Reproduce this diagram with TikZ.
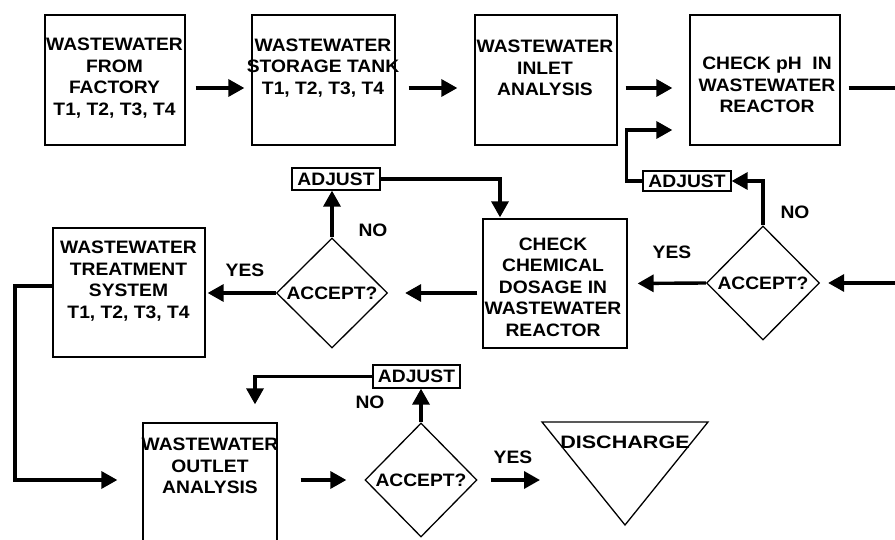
\documentclass[tikz,border=0pt]{standalone}
\usepackage{fontspec}
\setmainfont{Liberation Sans}[FakeStretch=1.07]
\usetikzlibrary{arrows.meta,shapes.geometric}
\begin{document}
\begin{tikzpicture}[x=1pt,y=-1pt,
  box/.style={draw,line width=1.3pt,inner sep=0pt},
  txt/.style={align=center,inner sep=0pt,font=\fontsize{18}{21.5}\selectfont\bfseries},
  lbl/.style={inner sep=0pt,font=\fontsize{18}{21.5}\selectfont\bfseries},
  dia/.style={draw,diamond,aspect=1,line width=1.3pt,inner sep=0pt,font=\fontsize{18}{21.5}\selectfont\bfseries},
  adj/.style={draw,line width=1.3pt,inner sep=0pt,font=\fontsize{18}{21.5}\selectfont\bfseries},
  conn/.style={line width=3.4pt,-{Triangle[length=16pt,width=17pt]}},
  plain/.style={line width=3.4pt},
  thinl/.style={line width=1.3pt,line join=miter},
]
\path[use as bounding box] (0,0) rectangle (895,540);
\clip (0,0) rectangle (895,540);

% top row
\node[box,minimum width=140pt,minimum height=130pt] (b1) at (115,80) {};
\node[txt] (t1) at (114.5,78) {WASTEWATER\\FROM\\FACTORY\\T1, T2, T3, T4};
\node[box,minimum width=143pt,minimum height=130pt] (b2) at (323.5,80) {};
\node[txt] (t2) at (323,68) {WASTEWATER\\STORAGE TANK\\T1, T2, T3, T4};
\node[box,minimum width=142pt,minimum height=130pt] (b3) at (546,80) {};
\node[txt] (t3) at (545,68) {WASTEWATER\\INLET\\ANALYSIS};
\node[box,minimum width=150pt,minimum height=130pt] (b4) at (765,80) {};
\node[txt] (t4) at (767,85) {CHECK pH\ \ IN\\WASTEWATER\\REACTOR};

\draw[conn,shorten <=10pt,shorten >=7pt] ([yshift=-8pt]b1.east) -- ([yshift=-8pt]b2.west);
\draw[conn,shorten <=13pt,shorten >=17pt] ([yshift=-8pt]b2.east) -- ([yshift=-8pt]b3.west);
\draw[conn,shorten <=8pt,shorten >=17pt] ([yshift=-8pt]b3.east) -- ([yshift=-8pt]b4.west);
\coordinate (outR) at (900,88);
\draw[plain,shorten <=8pt] ([yshift=-8pt]b4.east) -- (outR);

% middle row, right
\node[dia,minimum width=113pt,minimum height=114pt] (d1) at (763,283) {ACCEPT?};
\coordinate (inR) at (900,283);
\draw[conn,shorten >=8pt] (inR) -- (d1.east);
\node[adj,minimum width=88pt,minimum height=20pt] (adj1) at (687,181) {ADJUST};
\draw[conn] (d1.north) |- (adj1.east);
\draw[conn,shorten >=17pt] (adj1.west) -- ++(-16,0) |- ([yshift=-50pt]b4.west);
\node[lbl] (no1) at (795,212) {NO};

\node[box,minimum width=144pt,minimum height=129pt] (b6) at (555,283.5) {};
\node[txt] (t6) at (553,287) {CHECK\\CHEMICAL\\DOSAGE IN\\WASTEWATER\\REACTOR};
\draw[conn,shorten >=10pt] (d1.west) -- (b6.east);
\node[lbl] (yes1) at (672,252) {YES};

% middle row, left
\node[dia,minimum width=111pt,minimum height=110pt] (d2) at (332,293) {ACCEPT?};
\draw[conn,shorten <=5pt,shorten >=17pt] (b6.west |- d2.east) -- (d2.east);
\node[adj,minimum width=88pt,minimum height=22pt] (adj2) at (336,179) {ADJUST};
\draw[conn] (d2.north) -- (d2.north |- adj2.south);
\draw[conn,shorten >=1pt] (adj2.east) -| ([xshift=-55pt]b6.north);
\node[lbl] (no2) at (373,230) {NO};

\node[box,minimum width=152pt,minimum height=129pt] (b5) at (129,292.5) {};
\node[txt] (t5) at (128.5,281) {WASTEWATER\\TREATMENT\\SYSTEM\\T1, T2, T3, T4};
\draw[conn,shorten >=2pt] (d2.west) -- (b5.east |- d2.west);
\node[lbl] (yes2) at (245,270) {YES};

% bottom row
\node[box,minimum width=134pt,minimum height=137pt] (b7) at (210,491.5) {};
\node[txt] (t7) at (210,466) {WASTEWATER\\OUTLET\\ANALYSIS};
\coordinate (cL) at (15,480);
\draw[conn,shorten >=25pt] ([yshift=6.5pt]b5.west) -| (cL) -- (b7.west |- cL);

\node[dia,minimum width=112pt,minimum height=114pt] (d3) at (421,480) {ACCEPT?};
\draw[conn,shorten <=23pt,shorten >=18pt] (b7.east |- d3.west) -- (d3.west);
\node[adj,minimum width=87pt,minimum height=23pt] (adj3) at (416.5,376.5) {ADJUST};
\draw[conn] (d3.north) -- (d3.north |- adj3.south);
\draw[conn,shorten >=18pt] (adj3.west) -| ([xshift=45pt]b7.north);
\node[lbl] (no3) at (370,402) {NO};

\coordinate (tA) at (542,422);
\coordinate (tB) at (708,422);
\coordinate (tC) at (625,525);
\draw[thinl] (tA) -- (tB) -- (tC) -- cycle;
\node[txt,xscale=1.12] (t8) at (625,442) {DISCHARGE};
\coordinate (tin) at (540,480);
\draw[conn,shorten <=13pt] (d3.east) -- (tin);
\node[lbl] (yes3) at (513,457) {YES};
\end{tikzpicture}
\end{document}
